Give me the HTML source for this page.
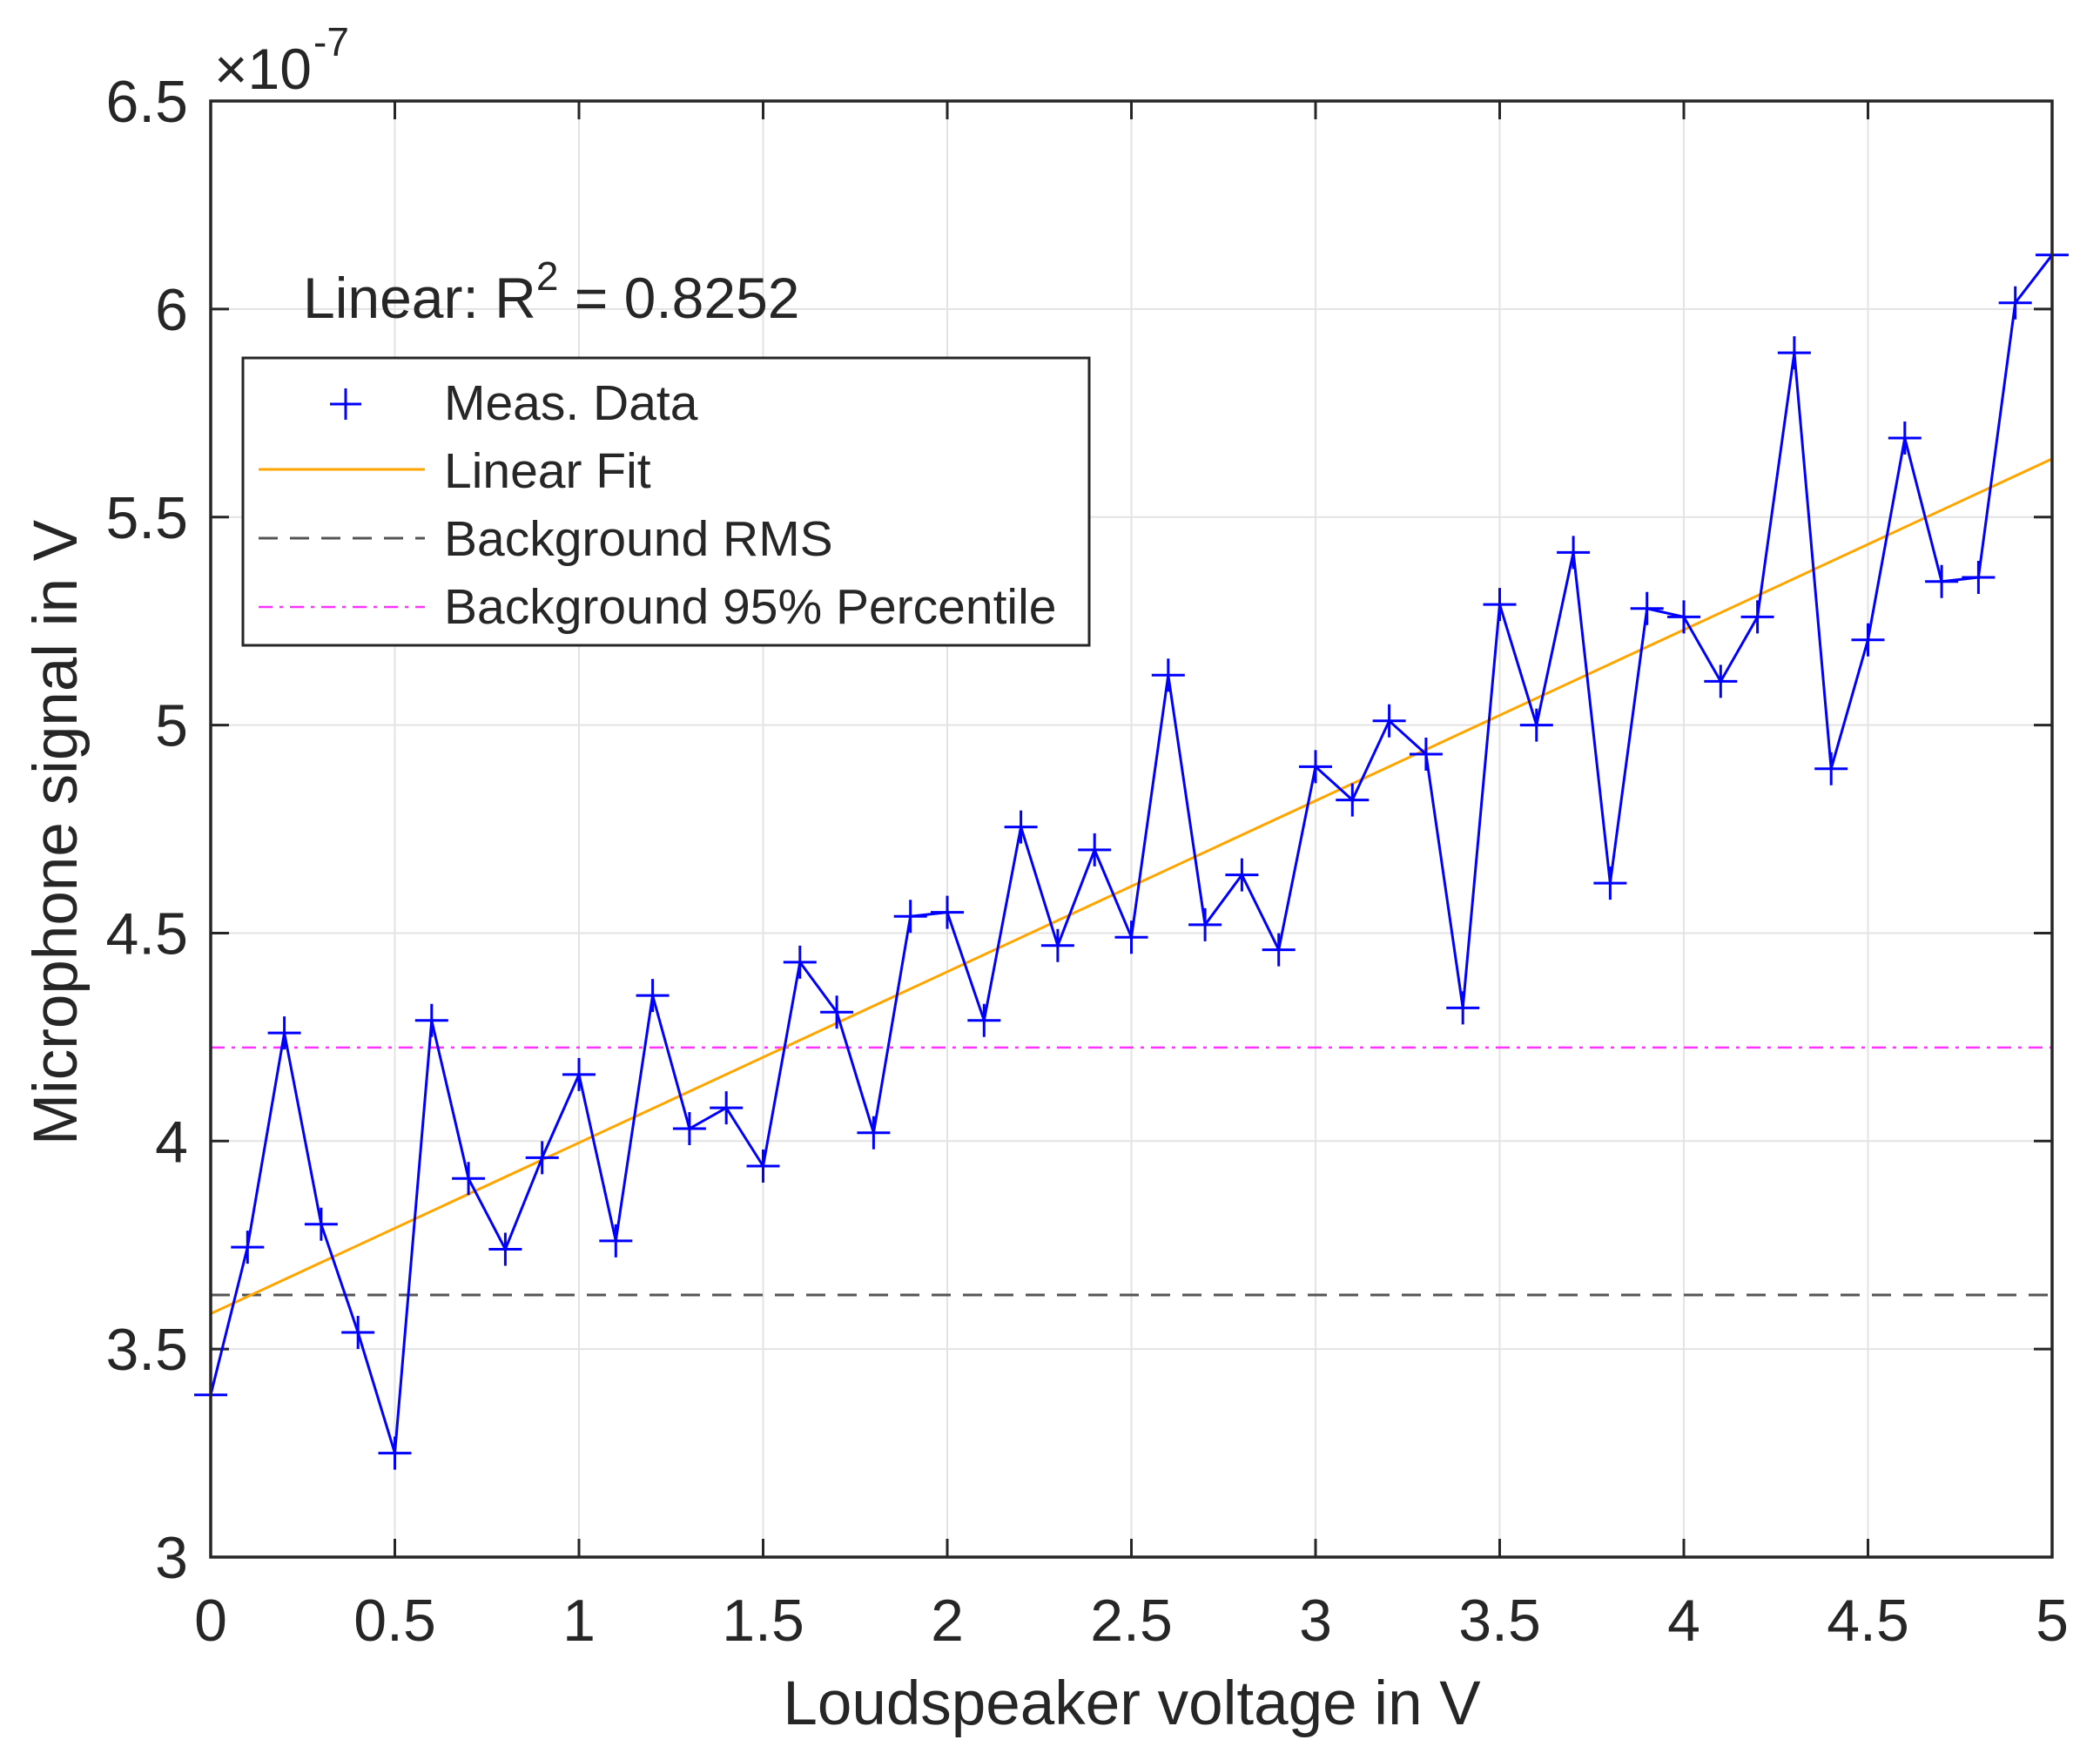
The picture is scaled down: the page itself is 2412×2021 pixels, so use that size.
<!DOCTYPE html>
<html><head><meta charset="utf-8"><style>
html,body{margin:0;padding:0;background:#fff}
svg{display:block}
text{font-family:"Liberation Sans",Arial,sans-serif;fill:#262626}
</style></head><body>
<svg id="s" width="2412" height="2021" viewBox="0 0 2412 2021" xmlns="http://www.w3.org/2000/svg">
<rect width="2412" height="2021" fill="#fff"/>
<g id="grid" stroke="#e3e3e3" stroke-width="2"></g>
<g id="ticks" stroke="#262626" stroke-width="3"></g>
<g id="lbl" font-size="68"></g>
<line id="rms" stroke="#555" stroke-width="3" stroke-dasharray="22,14"/>
<line id="p95" stroke="#ff33ff" stroke-width="2.5" stroke-dasharray="16,8,4,8"/>
<line id="fit" stroke="#ffa500" stroke-width="3"/>
<path id="data" fill="none" stroke="#0000ff" stroke-width="3"/>
<path id="mk" fill="none" stroke="#0000ff" stroke-width="3"/>
<rect x="242" y="116" width="2115" height="1672" fill="none" stroke="#262626" stroke-width="3.5"/>
<text x="246" y="102" font-size="66">×10</text>
<text x="360" y="64" font-size="46">-7</text>
<text x="348" y="365" font-size="66" fill="#000">Linear: R<tspan font-size="46" dy="-32">2</tspan><tspan dy="32"> = 0.8252</tspan></text>
<rect x="279" y="411" width="972" height="330" fill="#fff" stroke="#262626" stroke-width="3"/>
<path d="M379 464 H415 M397 446 V482" stroke="#0000ff" stroke-width="3"/>
<line x1="297" y1="539" x2="488" y2="539" stroke="#ffa500" stroke-width="3"/>
<line x1="297" y1="618" x2="488" y2="618" stroke="#555" stroke-width="3" stroke-dasharray="22,14"/>
<line x1="297" y1="697" x2="488" y2="697" stroke="#ff33ff" stroke-width="2.5" stroke-dasharray="16,8,4,8"/>
<g font-size="57" fill="#000">
<text x="510" y="482">Meas. Data</text>
<text x="510" y="560">Linear Fit</text>
<text x="510" y="638">Background RMS</text>
<text x="510" y="716">Background 95% Percentile</text>
</g>
<text x="1300" y="1980" font-size="71" text-anchor="middle">Loudspeaker voltage in V</text>
<text transform="translate(88,956) rotate(-90)" font-size="71" text-anchor="middle">Microphone signal in V</text>
</svg>
<script>
var X=v=>242+v*423, Y=v=>1788-(v-3)*477.7;
var ns="http://www.w3.org/2000/svg";
function el(p,t,a,txt){var e=document.createElementNS(ns,t);for(var k in a)e.setAttribute(k,a[k]);if(txt!==undefined)e.textContent=txt;document.getElementById(p).appendChild(e);}
for(var i=1;i<10;i++){var x=X(i*0.5);el("grid","line",{x1:x,y1:116,x2:x,y2:1788});el("ticks","line",{x1:x,y1:1788,x2:x,y2:1767});el("ticks","line",{x1:x,y1:116,x2:x,y2:137});}
for(var i=0;i<=10;i++){var x=X(i*0.5);el("lbl","text",{x:x,y:1884,"text-anchor":"middle"},String(i*0.5));}
for(var i=1;i<7;i++){var y=Y(3+i*0.5);el("grid","line",{x1:242,y1:y,x2:2357,y2:y});el("ticks","line",{x1:242,y1:y,x2:263,y2:y});el("ticks","line",{x1:2357,y1:y,x2:2336,y2:y});}
for(var i=0;i<=7;i++){var v=3+i*0.5;el("lbl","text",{x:216,y:Y(v)+24,"text-anchor":"end"},String(v));}
function hl(id,v){var e=document.getElementById(id);e.setAttribute("x1",242);e.setAttribute("x2",2357);e.setAttribute("y1",Y(v));e.setAttribute("y2",Y(v));}
hl("rms",3.63);hl("p95",4.225);
var d=[3.39,3.745,4.26,3.80,3.54,3.25,4.29,3.91,3.74,3.96,4.16,3.76,4.35,4.03,4.08,3.94,4.43,4.31,4.02,4.54,4.55,4.29,4.755,4.47,4.70,4.49,5.12,4.52,4.64,4.46,4.90,4.82,5.01,4.93,4.32,5.29,5.00,5.415,4.62,5.28,5.26,5.105,5.26,5.895,4.895,5.205,5.69,5.345,5.355,6.015,6.13];
var p="",m="";
d.forEach((v,i)=>{var x=X(i*0.1),y=Y(v);p+=(i?"L":"M")+x.toFixed(1)+" "+y.toFixed(1);m+="M"+(x-19).toFixed(1)+" "+y.toFixed(1)+"h38M"+x.toFixed(1)+" "+(y-19).toFixed(1)+"v38";});
document.getElementById("data").setAttribute("d",p);
document.getElementById("mk").setAttribute("d",m);
var f=document.getElementById("fit");f.setAttribute("x1",X(0));f.setAttribute("y1",Y(3.585));f.setAttribute("x2",X(5));f.setAttribute("y2",Y(5.64));
</script>
</body></html>
